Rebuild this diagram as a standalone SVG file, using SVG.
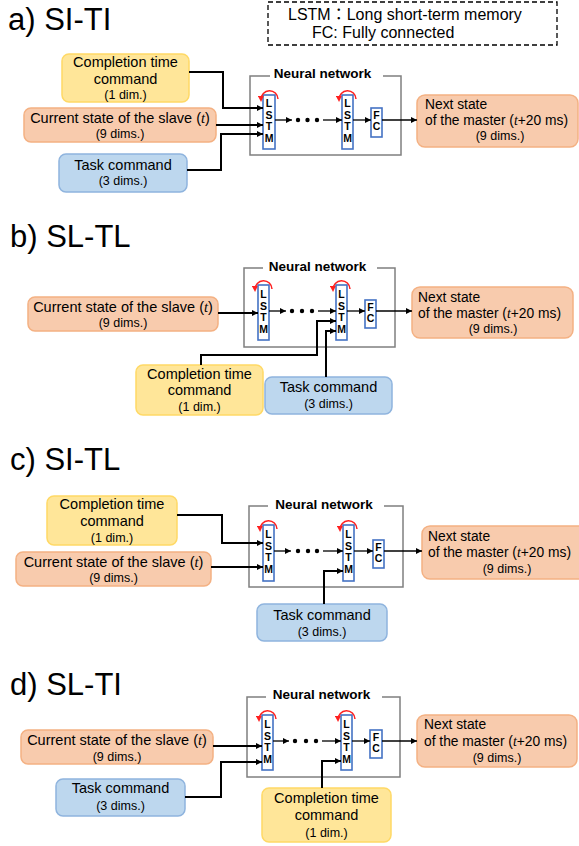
<svg xmlns="http://www.w3.org/2000/svg" width="579" height="846" viewBox="0 0 579 846">
<style>
text{font-family:"Liberation Sans",Arial,sans-serif;fill:#000}
.title{font-size:31px}
.lbl{font-size:14.5px;text-anchor:middle}
.sub{font-size:12.5px;text-anchor:middle}
.ns{font-size:13.8px}
.nsc{font-size:12.5px;text-anchor:middle}
.nn{font-size:13.5px;font-weight:bold;text-anchor:middle}
.lt{font-size:10.5px;font-weight:bold;text-anchor:middle}
.leg{font-size:16px}
.it{font-family:"Liberation Serif",serif;font-style:italic}
.yel{fill:#FFE699;stroke:#FFD966;stroke-width:1.5}
.org{fill:#F8CBAD;stroke:#F4B183;stroke-width:1.5}
.blu{fill:#BDD7EE;stroke:#8FB4DE;stroke-width:1.5}
.cell{fill:#fff;stroke:#4472C4;stroke-width:1.6}
.nnbox{fill:#fff;stroke:#7F7F7F;stroke-width:1.5}
.nnlab{fill:#fff;stroke:none}
.in{fill:none;stroke:#000;stroke-width:2;marker-end:url(#ah)}
.ar{fill:none;stroke:#000;stroke-width:1.3;marker-end:url(#ah)}
.loop{fill:none;stroke:#FF2020;stroke-width:1.5;marker-end:url(#rh)}
.dot{fill:#000}
</style>
<defs>
<marker id="ah" viewBox="0 0 10 10" refX="10" refY="5" markerWidth="7" markerHeight="6" markerUnits="userSpaceOnUse" orient="auto"><path d="M0,0 L10,5 L0,10 z" fill="#000"/></marker>
<marker id="rh" viewBox="0 0 10 10" refX="6" refY="5" markerWidth="6" markerHeight="6" markerUnits="userSpaceOnUse" orient="auto"><path d="M0,0 L10,5 L0,10 z" fill="#FF2020"/></marker>
</defs>

<!-- Legend -->
<g id="legend">
<rect x="268" y="2" width="289" height="43" fill="none" stroke="#000" stroke-width="1.3" stroke-dasharray="5,3"/>
<text class="leg" x="288" y="20">LSTM<tspan font-family="'Noto Sans CJK JP',sans-serif">：</tspan>Long short-term memory</text>
<text class="leg" x="312" y="38">FC: Fully connected</text>
</g>

<!-- ================= Panel a ================= -->
<g id="panel-a">
<text class="title" x="8" y="30">a) SI-TI</text>
<g id="a-completion">
<rect class="yel" x="62" y="54" width="127" height="48" rx="7"/>
<text class="lbl" x="125.5" y="67">Completion time</text>
<text class="lbl" x="125.5" y="84">command</text>
<text class="sub" x="125.5" y="99">(1 dim.)</text>
</g>
<g id="a-current">
<rect class="org" x="24" y="108" width="192" height="34" rx="7"/>
<text class="lbl" x="120" y="123">Current state of the slave (<tspan class="it">t</tspan>)</text>
<text class="sub" x="120" y="138">(9 dims.)</text>
</g>
<g id="a-task">
<rect class="blu" x="59" y="154" width="128" height="38" rx="7"/>
<text class="lbl" x="123" y="170">Task command</text>
<text class="sub" x="123" y="185">(3 dims.)</text>
</g>
<g id="a-nn">
<rect class="nnbox" x="250" y="76" width="151" height="79"/>
<rect class="nnlab" x="270" y="64" width="113" height="17"/>
<text class="nn" x="322.5" y="78">Neural network</text>
</g>
<g id="a-lstm1">
<rect class="cell" x="263" y="95" width="12" height="54"/>
<text class="lt" x="269" y="107">L</text><text class="lt" x="269" y="119">S</text><text class="lt" x="269" y="130">T</text><text class="lt" x="269" y="142">M</text>
<path class="loop" d="M278,99 A8.5,8.5 0 1 0 261,99.5"/>
</g>
<g id="a-lstm2">
<rect class="cell" x="342" y="95" width="11" height="54"/>
<text class="lt" x="347.5" y="107">L</text><text class="lt" x="347.5" y="119">S</text><text class="lt" x="347.5" y="130">T</text><text class="lt" x="347.5" y="142">M</text>
<path class="loop" d="M356,99 A8.5,8.5 0 1 0 339,99.5"/>
</g>
<g id="a-fc">
<rect class="cell" x="371" y="108" width="11" height="29"/>
<text class="lt" x="376.5" y="118.5">F</text><text class="lt" x="376.5" y="130">C</text>
</g>
<g id="a-next">
<rect class="org" x="417" y="95" width="161" height="52" rx="8"/>
<text class="ns" x="425" y="109">Next state</text>
<text class="ns" x="425" y="125">of the master (<tspan class="it">t</tspan>+20 ms)</text>
<text class="nsc" x="500" y="140">(9 dims.)</text>
</g>
<g id="a-connectors">
<path class="in" d="M189,72 H223 V108 H263"/>
<path class="in" d="M216,125 H263"/>
<path class="in" d="M187,170 H221 V134 H263"/>
<path class="ar" d="M275,120 H292"/>
<circle class="dot" cx="298" cy="120" r="2.2"/><circle class="dot" cx="307.5" cy="120" r="2.2"/><circle class="dot" cx="317" cy="120" r="2.2"/>
<path class="ar" d="M323,120 H342"/>
<path class="ar" d="M353,120 H371"/>
<path class="ar" d="M382,120 H417"/>
</g>
</g>

<!-- ================= Panel b ================= -->
<g id="panel-b">
<text class="title" x="10" y="247">b) SL-TL</text>
<g id="b-current">
<rect class="org" x="28" y="297" width="190" height="34" rx="7"/>
<text class="lbl" x="123" y="312">Current state of the slave (<tspan class="it">t</tspan>)</text>
<text class="sub" x="123" y="327">(9 dims.)</text>
</g>
<g id="b-completion">
<rect class="yel" x="136" y="365" width="127" height="50" rx="7"/>
<text class="lbl" x="199.5" y="379">Completion time</text>
<text class="lbl" x="199.5" y="395">command</text>
<text class="sub" x="199.5" y="411">(1 dim.)</text>
</g>
<g id="b-task">
<rect class="blu" x="265" y="377" width="127" height="37" rx="7"/>
<text class="lbl" x="328.5" y="392">Task command</text>
<text class="sub" x="328.5" y="408">(3 dims.)</text>
</g>
<g id="b-nn">
<rect class="nnbox" x="244" y="268" width="151" height="79"/>
<rect class="nnlab" x="263" y="256" width="114" height="17"/>
<text class="nn" x="317.5" y="271">Neural network</text>
</g>
<g id="b-lstm1">
<rect class="cell" x="258" y="285" width="11" height="55"/>
<text class="lt" x="263.5" y="298">L</text><text class="lt" x="263.5" y="310">S</text><text class="lt" x="263.5" y="321">T</text><text class="lt" x="263.5" y="333">M</text>
<path class="loop" d="M272,289 A8.5,8.5 0 1 0 255,289.5"/>
</g>
<g id="b-lstm2">
<rect class="cell" x="336" y="285" width="11" height="55"/>
<text class="lt" x="341.5" y="298">L</text><text class="lt" x="341.5" y="310">S</text><text class="lt" x="341.5" y="321">T</text><text class="lt" x="341.5" y="333">M</text>
<path class="loop" d="M350,289 A8.5,8.5 0 1 0 333,289.5"/>
</g>
<g id="b-fc">
<rect class="cell" x="365" y="300" width="11" height="28"/>
<text class="lt" x="370.5" y="310.5">F</text><text class="lt" x="370.5" y="322">C</text>
</g>
<g id="b-next">
<rect class="org" x="412" y="287" width="161" height="51" rx="8"/>
<text class="ns" x="418" y="302">Next state</text>
<text class="ns" x="418" y="318">of the master (<tspan class="it">t</tspan>+20 ms)</text>
<text class="nsc" x="493" y="333">(9 dims.)</text>
</g>
<g id="b-connectors">
<path class="in" d="M218,313 H258"/>
<path class="in" d="M201,365 V355 H317 V321 H336"/>
<path class="in" d="M326,377 V331 H336"/>
<path class="ar" d="M269,311 H286"/>
<circle class="dot" cx="292" cy="311" r="2.2"/><circle class="dot" cx="302" cy="311" r="2.2"/><circle class="dot" cx="312" cy="311" r="2.2"/>
<path class="ar" d="M318,311 H336"/>
<path class="ar" d="M347,311 H365"/>
<path class="ar" d="M376,311 H412"/>
</g>
</g>

<!-- ================= Panel c ================= -->
<g id="panel-c">
<text class="title" x="10" y="470">c) SI-TL</text>
<g id="c-completion">
<rect class="yel" x="47" y="496" width="130" height="49" rx="7"/>
<text class="lbl" x="112" y="509">Completion time</text>
<text class="lbl" x="112" y="526">command</text>
<text class="sub" x="112" y="542">(1 dim.)</text>
</g>
<g id="c-current">
<rect class="org" x="16" y="552" width="195" height="34" rx="7"/>
<text class="lbl" x="113.5" y="567">Current state of the slave (<tspan class="it">t</tspan>)</text>
<text class="sub" x="113.5" y="582">(9 dims.)</text>
</g>
<g id="c-task">
<rect class="blu" x="257" y="604" width="130" height="37" rx="7"/>
<text class="lbl" x="322" y="620">Task command</text>
<text class="sub" x="322" y="636">(3 dims.)</text>
</g>
<g id="c-nn">
<rect class="nnbox" x="249" y="506" width="154" height="81"/>
<rect class="nnlab" x="268" y="494" width="116" height="17"/>
<text class="nn" x="324" y="509">Neural network</text>
</g>
<g id="c-lstm1">
<rect class="cell" x="263" y="525" width="11" height="56"/>
<text class="lt" x="268.5" y="538">L</text><text class="lt" x="268.5" y="550">S</text><text class="lt" x="268.5" y="561">T</text><text class="lt" x="268.5" y="573">M</text>
<path class="loop" d="M277,529 A8.5,8.5 0 1 0 260,529.5"/>
</g>
<g id="c-lstm2">
<rect class="cell" x="343" y="525" width="11" height="56"/>
<text class="lt" x="348.5" y="538">L</text><text class="lt" x="348.5" y="550">S</text><text class="lt" x="348.5" y="561">T</text><text class="lt" x="348.5" y="573">M</text>
<path class="loop" d="M357,529 A8.5,8.5 0 1 0 340,529.5"/>
</g>
<g id="c-fc">
<rect class="cell" x="373" y="540" width="11" height="28"/>
<text class="lt" x="378.5" y="550.5">F</text><text class="lt" x="378.5" y="562">C</text>
</g>
<g id="c-next">
<rect class="org" x="422" y="526" width="170" height="53" rx="8"/>
<text class="ns" x="428" y="541">Next state</text>
<text class="ns" x="428" y="557">of the master (<tspan class="it">t</tspan>+20 ms)</text>
<text class="nsc" x="507" y="573">(9 dims.)</text>
</g>
<g id="c-connectors">
<path class="in" d="M177,515 H222 V543 H263"/>
<path class="in" d="M211,567 H263"/>
<path class="in" d="M324,604 V571 H343"/>
<path class="ar" d="M274,551 H291"/>
<circle class="dot" cx="298" cy="551" r="2.2"/><circle class="dot" cx="308" cy="551" r="2.2"/><circle class="dot" cx="317" cy="551" r="2.2"/>
<path class="ar" d="M323,551 H343"/>
<path class="ar" d="M354,551 H373"/>
<path class="ar" d="M384,551 H422"/>
</g>
</g>

<!-- ================= Panel d ================= -->
<g id="panel-d">
<text class="title" x="10" y="695">d) SL-TI</text>
<g id="d-current">
<rect class="org" x="21" y="730" width="192" height="34" rx="7"/>
<text class="lbl" x="117" y="745">Current state of the slave (<tspan class="it">t</tspan>)</text>
<text class="sub" x="117" y="761">(9 dims.)</text>
</g>
<g id="d-task">
<rect class="blu" x="56" y="779" width="129" height="37" rx="7"/>
<text class="lbl" x="120.5" y="793">Task command</text>
<text class="sub" x="120.5" y="810">(3 dims.)</text>
</g>
<g id="d-completion">
<rect class="yel" x="262" y="788" width="129" height="54" rx="7"/>
<text class="lbl" x="326.5" y="803">Completion time</text>
<text class="lbl" x="326.5" y="820">command</text>
<text class="sub" x="326.5" y="837">(1 dim.)</text>
</g>
<g id="d-nn">
<rect class="nnbox" x="247" y="697" width="153" height="80"/>
<rect class="nnlab" x="266" y="685" width="116" height="17"/>
<text class="nn" x="321.5" y="699">Neural network</text>
</g>
<g id="d-lstm1">
<rect class="cell" x="262" y="715" width="11" height="55"/>
<text class="lt" x="267.5" y="728">L</text><text class="lt" x="267.5" y="740">S</text><text class="lt" x="267.5" y="751">T</text><text class="lt" x="267.5" y="763">M</text>
<path class="loop" d="M276,719 A8.5,8.5 0 1 0 259,719.5"/>
</g>
<g id="d-lstm2">
<rect class="cell" x="341" y="715" width="11" height="55"/>
<text class="lt" x="346.5" y="728">L</text><text class="lt" x="346.5" y="740">S</text><text class="lt" x="346.5" y="751">T</text><text class="lt" x="346.5" y="763">M</text>
<path class="loop" d="M355,719 A8.5,8.5 0 1 0 338,719.5"/>
</g>
<g id="d-fc">
<rect class="cell" x="370" y="730" width="12" height="28"/>
<text class="lt" x="376" y="740.5">F</text><text class="lt" x="376" y="752">C</text>
</g>
<g id="d-next">
<rect class="org" x="417" y="715" width="160" height="52" rx="8"/>
<text class="ns" x="424" y="729">Next state</text>
<text class="ns" x="424" y="746">of the master (<tspan class="it">t</tspan>+20 ms)</text>
<text class="nsc" x="497" y="762">(9 dims.)</text>
</g>
<g id="d-connectors">
<path class="in" d="M213,746 H262"/>
<path class="in" d="M185,797 H221 V762 H262"/>
<path class="in" d="M322,788 V761 H341"/>
<path class="ar" d="M273,741 H289"/>
<circle class="dot" cx="295" cy="741" r="2.2"/><circle class="dot" cx="306" cy="741" r="2.2"/><circle class="dot" cx="316" cy="741" r="2.2"/>
<path class="ar" d="M322,741 H341"/>
<path class="ar" d="M352,741 H370"/>
<path class="ar" d="M382,741 H417"/>
</g>
</g>
</svg>
